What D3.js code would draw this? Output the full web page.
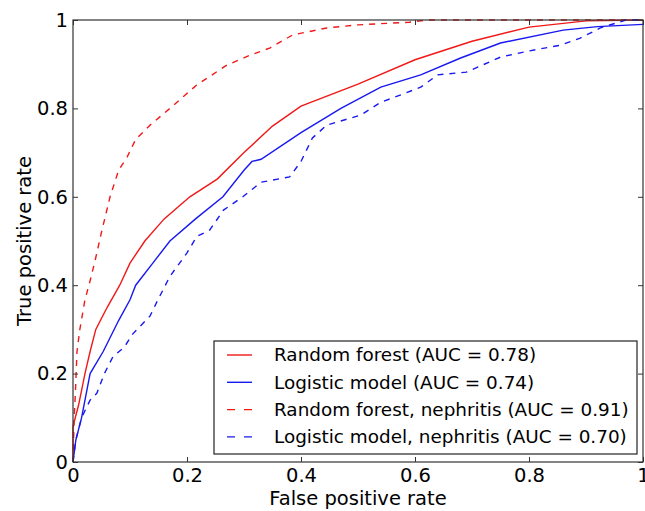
<!DOCTYPE html>
<html>
<head>
<meta charset="utf-8">
<script src="https://cdn.jsdelivr.net/npm/d3@7"></script>
<style>
  body { margin: 0; background: #fff; }
  svg { font-family: "DejaVu Sans", sans-serif; }
</style>
</head>
<body>
<svg id="chart" width="645" height="511"></svg>
<script>
// ROC curves: [false positive rate, true positive rate]
var rfAll = [[0,0],[0,0.08],[0.01,0.13],[0.021,0.2],[0.03,0.25],[0.04,0.3],[0.06,0.35],[0.082,0.4],[0.1,0.45],
  [0.126,0.5],[0.16,0.55],[0.205,0.6],[0.253,0.64],[0.3,0.7],[0.35,0.76],[0.4,0.805],[0.5,0.855],[0.6,0.91],
  [0.7,0.952],[0.8,0.984],[0.9,0.998],[1,1]]
var lrAll = [[0,0],[0.005,0.05],[0.015,0.1],[0.03,0.2],[0.053,0.25],[0.08,0.32],[0.1,0.367],[0.11,0.4],[0.14,0.45],
  [0.17,0.5],[0.215,0.55],[0.263,0.6],[0.3,0.66],[0.314,0.68],[0.33,0.685],[0.4,0.745],[0.47,0.8],[0.54,0.848],
  [0.61,0.876],[0.68,0.914],[0.75,0.948],[0.86,0.977],[0.92,0.985],[1,0.99]]
var rfNeph = [[0,0],[0.002,0.1],[0.004,0.15],[0.007,0.25],[0.012,0.3],[0.021,0.367],[0.03,0.41],[0.039,0.457],
  [0.05,0.52],[0.065,0.6],[0.08,0.66],[0.095,0.69],[0.11,0.73],[0.135,0.762],[0.17,0.8],[0.217,0.853],[0.27,0.898],
  [0.31,0.92],[0.346,0.937],[0.385,0.966],[0.445,0.982],[0.5,0.989],[0.59,0.995],[0.62,1],[1,1]]
var lrNeph = [[0,0],[0.005,0.05],[0.015,0.1],[0.03,0.14],[0.042,0.156],[0.055,0.2],[0.07,0.238],[0.09,0.26],
  [0.105,0.29],[0.135,0.33],[0.149,0.367],[0.17,0.42],[0.2,0.473],[0.217,0.51],[0.24,0.525],[0.264,0.57],
  [0.298,0.6],[0.33,0.633],[0.38,0.645],[0.4,0.68],[0.42,0.733],[0.445,0.762],[0.505,0.785],[0.54,0.814],
  [0.574,0.83],[0.61,0.848],[0.64,0.876],[0.69,0.882],[0.75,0.916],[0.8,0.93],[0.855,0.943],[0.89,0.959],
  [0.925,0.982],[0.97,1],[1,1]]

var seriesNames = ["Random forest (AUC = 0.78)", "Logistic model (AUC = 0.74)",
  "Random forest, nephritis (AUC = 0.91)", "Logistic model, nephritis (AUC = 0.70)"]
var tickValues = [0, 0.2, 0.4, 0.6, 0.8, 1]

var series = [
  {name: seriesNames[0], values: rfAll, color: "#f01818", dash: null},
  {name: seriesNames[1], values: lrAll, color: "#1818f0", dash: null},
  {name: seriesNames[2], values: rfNeph, color: "#f01818", dash: "6,6"},
  {name: seriesNames[3], values: lrNeph, color: "#1818f0", dash: "6,6"}
]

var dimensions = {
  width: 645,
  height: 511,
  margin: {top: 20, right: 2, bottom: 49, left: 73}
}
dimensions.boundedWidth = dimensions.width - dimensions.margin.left - dimensions.margin.right
dimensions.boundedHeight = dimensions.height - dimensions.margin.top - dimensions.margin.bottom

var svg = d3.select("#chart")
var g = svg.append("g")
  .attr("transform", "translate(" + dimensions.margin.left + "," + dimensions.margin.top + ")")

var xScale = d3.scaleLinear().domain([0, 1]).range([0, dimensions.boundedWidth])
var yScale = d3.scaleLinear().domain([0, 1]).range([dimensions.boundedHeight, 0])

var fmt = function (d) { return d === 0 || d === 1 ? String(d) : d3.format(".1f")(d) }

// curves
var line = d3.line()
  .x(d => xScale(d[0]))
  .y(d => yScale(d[1]))

g.selectAll(".curve")
  .data(series)
  .enter()
  .append("path")
  .attr("class", "curve")
  .attr("d", d => line(d.values))
  .attr("fill", "none")
  .attr("stroke", d => d.color)
  .attr("stroke-width", 1.4)
  .attr("stroke-dasharray", d => d.dash)

// axes, ticks pointing inward on all four sides
var axisB = g.append("g")
  .attr("transform", "translate(0," + dimensions.boundedHeight + ")")
  .call(d3.axisBottom(xScale).tickValues(tickValues).tickSize(-5).tickPadding(6).tickFormat(fmt))
var axisL = g.append("g")
  .call(d3.axisLeft(yScale).tickValues(tickValues).tickSize(-5).tickPadding(5).tickFormat(fmt))
var axisT = g.append("g")
  .call(d3.axisTop(xScale).tickValues(tickValues).tickSize(-5).tickFormat(""))
var axisR = g.append("g")
  .attr("transform", "translate(" + dimensions.boundedWidth + ",0)")
  .call(d3.axisRight(yScale).tickValues(tickValues).tickSize(-5).tickFormat(""))

;[axisB, axisL, axisT, axisR].forEach(function (a) {
  a.select(".domain").remove()
  a.selectAll("line").attr("stroke", "#333")
  a.selectAll("text").attr("font-size", 19.5).attr("fill", "#000").attr("font-family", "DejaVu Sans, sans-serif")
})

g.append("rect")
  .attr("width", dimensions.boundedWidth)
  .attr("height", dimensions.boundedHeight)
  .attr("fill", "none")
  .attr("stroke", "#333")
  .attr("stroke-width", 1.2)

// graph labels
svg.append("text")
  .attr("x", dimensions.margin.left + dimensions.boundedWidth / 2)
  .attr("y", 505)
  .attr("text-anchor", "middle")
  .attr("font-size", 19.5)
  .text("False positive rate")

svg.append("text")
  .attr("transform", "translate(31," + (dimensions.margin.top + dimensions.boundedHeight / 2) + ") rotate(-90)")
  .attr("text-anchor", "middle")
  .attr("font-size", 19.5)
  .text("True positive rate")

// legend
var legend = svg.append("g").attr("transform", "translate(214,341)")
legend.append("rect")
  .attr("width", 423)
  .attr("height", 113)
  .attr("fill", "#fff")
  .attr("stroke", "#222")
  .attr("stroke-width", 1.2)

var rows = legend.selectAll(".row")
  .data(series)
  .enter()
  .append("g")
  .attr("transform", (d, i) => "translate(0," + (14 + i * 27.3) + ")")

rows.append("line")
  .attr("x1", 13).attr("x2", 38)
  .attr("stroke", d => d.color)
  .attr("stroke-width", 1.4)
  .attr("stroke-dasharray", d => d.dash ? "8,9" : null)

rows.append("text")
  .attr("x", 60)
  .attr("dy", "0.35em")
  .attr("font-size", 18.4)
  .text(d => d.name)
</script>
</body>
</html>
